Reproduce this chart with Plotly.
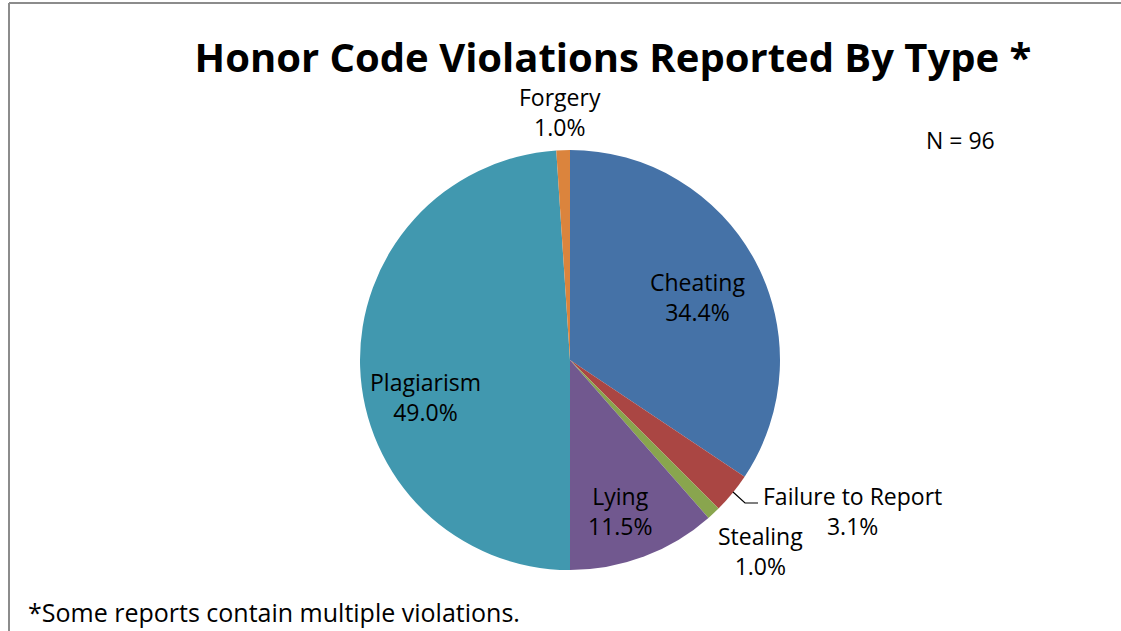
import plotly.graph_objects as go

categories = ["Cheating", "Failure to Report", "Stealing", "Lying", "Plagiarism", "Forgery"]
counts = [33, 3, 1, 11, 47, 1]
colors = ["#4572A7", "#AA4643", "#89A54E", "#71588F", "#4198AF", "#DB843D"]

total = sum(counts)
W, H = 1121, 631
FONT = "Open Sans"
FS = 23

fig = go.Figure(go.Pie(
    labels=categories,
    values=counts,
    sort=False,
    direction="clockwise",
    rotation=0,
    marker=dict(colors=colors, line=dict(width=0)),
    textinfo="none",
    domain=dict(x=[360 / W, 780 / W], y=[(H - 570) / H, (H - 150) / H]),
    showlegend=False,
    hoverinfo="label+percent",
))

# data labels (text derived from the data arrays)
label_pos = {
    "Cheating": (697, 297),
    "Failure to Report": (852, 511),
    "Stealing": (760, 551),
    "Lying": (620, 511),
    "Plagiarism": (425, 397),
    "Forgery": (560, 112),
}
for cat, v in zip(categories, counts):
    px, py = label_pos[cat]
    fig.add_annotation(
        x=px / W, y=1 - py / H, xref="paper", yref="paper",
        text=f"{cat}<br>{v / total * 100:.1f}%",
        showarrow=False, xanchor="center", yanchor="middle",
        font=dict(family=FONT, size=FS, color="black"),
    )

# leader line for Failure to Report
fig.add_shape(type="path",
              path=f"M {733/W} {1-492/H} L {745/W} {1-503/H} L {758/W} {1-503/H}",
              xref="paper", yref="paper", line=dict(color="black", width=1.2))

# N annotation
fig.add_annotation(x=960 / W, y=1 - 140 / H, xref="paper", yref="paper",
                   text="N = 96", showarrow=False, xanchor="center", yanchor="middle",
                   font=dict(family=FONT, size=FS, color="black"))

# footnote
fig.add_annotation(x=26 / W, y=1 - 612 / H, xref="paper", yref="paper",
                   text="*Some reports contain multiple violations.", showarrow=False,
                   xanchor="left", yanchor="middle",
                   font=dict(family=FONT, size=25, color="black"))

# chart frame (top and left edges)
fig.add_shape(type="line", x0=9 / W, x1=1, y0=1 - 3 / H, y1=1 - 3 / H,
              xref="paper", yref="paper", line=dict(color="#8c8c8c", width=2))
fig.add_shape(type="line", x0=9 / W, x1=9 / W, y0=0, y1=1 - 3 / H,
              xref="paper", yref="paper", line=dict(color="#8c8c8c", width=2))

fig.update_layout(
    width=W, height=H,
    margin=dict(l=0, r=0, t=0, b=0),
    paper_bgcolor="white", plot_bgcolor="white",
    title=dict(text="<b>Honor Code Violations Reported By Type *</b>",
               x=613 / W, xanchor="center", y=1 - 58 / H, yanchor="middle",
               font=dict(family=FONT, size=40, color="black")),
)

fig.write_html("out.html",
               config={"displayModeBar": False},
               post_script="document.body.style.margin='0';document.body.style.padding='0';")
